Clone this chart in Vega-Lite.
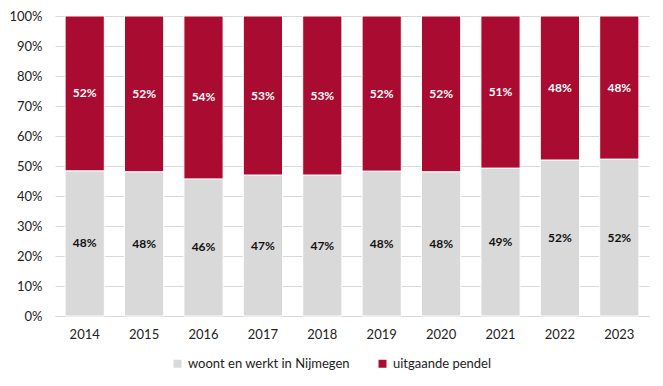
{
  "$schema": "https://vega.github.io/schema/vega-lite/v6.json",
  "width": 594,
  "height": 300,
  "autosize": "none",
  "padding": {"left": 55, "top": 16, "right": 14, "bottom": 70},
  "background": "white",
  "config": {
    "font": "Lato",
    "view": {"stroke": null},
    "axis": {"labelFont": "Lato", "labelFontSize": 13, "labelColor": "#222"},
    "axisY": {"values": [0, 0.1, 0.2, 0.3, 0.4, 0.5, 0.6, 0.7, 0.8, 0.9, 1], "labelOverlap": false, "format": ".0%", "domain": false, "ticks": false, "gridColor": "#d9d9d9", "labelPadding": 13},
    "legend": {"labelFont": "Lato", "labelFontSize": 13, "labelColor": "#222"}
  },
  "data": {
    "values": [
      {"year": "2014", "series": "woont en werkt in Nijmegen", "k": 0, "value": 0.484},
      {"year": "2014", "series": "uitgaande pendel", "k": 1, "value": 0.516},
      {"year": "2015", "series": "woont en werkt in Nijmegen", "k": 0, "value": 0.481},
      {"year": "2015", "series": "uitgaande pendel", "k": 1, "value": 0.519},
      {"year": "2016", "series": "woont en werkt in Nijmegen", "k": 0, "value": 0.457},
      {"year": "2016", "series": "uitgaande pendel", "k": 1, "value": 0.543},
      {"year": "2017", "series": "woont en werkt in Nijmegen", "k": 0, "value": 0.47},
      {"year": "2017", "series": "uitgaande pendel", "k": 1, "value": 0.53},
      {"year": "2018", "series": "woont en werkt in Nijmegen", "k": 0, "value": 0.47},
      {"year": "2018", "series": "uitgaande pendel", "k": 1, "value": 0.53},
      {"year": "2019", "series": "woont en werkt in Nijmegen", "k": 0, "value": 0.483},
      {"year": "2019", "series": "uitgaande pendel", "k": 1, "value": 0.517},
      {"year": "2020", "series": "woont en werkt in Nijmegen", "k": 0, "value": 0.481},
      {"year": "2020", "series": "uitgaande pendel", "k": 1, "value": 0.519},
      {"year": "2021", "series": "woont en werkt in Nijmegen", "k": 0, "value": 0.493},
      {"year": "2021", "series": "uitgaande pendel", "k": 1, "value": 0.507},
      {"year": "2022", "series": "woont en werkt in Nijmegen", "k": 0, "value": 0.52},
      {"year": "2022", "series": "uitgaande pendel", "k": 1, "value": 0.48},
      {"year": "2023", "series": "woont en werkt in Nijmegen", "k": 0, "value": 0.523},
      {"year": "2023", "series": "uitgaande pendel", "k": 1, "value": 0.477}
    ]
  },
  "transform": [
    {"stack": "value", "groupby": ["year"], "sort": [{"field": "k", "order": "ascending"}], "offset": "normalize", "as": ["v0", "v1"]},
    {"calculate": "(datum.v0 + datum.v1) / 2", "as": "mid"}
  ],
  "encoding": {
    "x": {
      "field": "year", "type": "nominal", "title": null,
      "scale": {"paddingInner": 0.34, "paddingOuter": 0.17},
      "axis": {"labelAngle": 0, "ticks": false, "domainColor": "#d9d9d9", "labelPadding": 12}
    }
  },
  "layer": [
    {
      "mark": {"type": "bar", "stroke": "white", "strokeWidth": 1},
      "encoding": {
        "y": {
          "field": "v0", "type": "quantitative", "title": null,
          "scale": {"domain": [0, 1]}
        },
        "y2": {"field": "v1"},
        "color": {
          "field": "series", "type": "nominal", "title": null,
          "scale": {"domain": ["woont en werkt in Nijmegen", "uitgaande pendel"], "range": ["#d9d9d9", "#a90c30"]},
          "legend": {"orient": "none", "legendX": 116, "legendY": 341, "direction": "horizontal", "symbolType": "square", "symbolSize": 64, "symbolStrokeWidth": 0, "columnPadding": 26, "labelLimit": 300}
        }
      }
    },
    {
      "mark": {"type": "text", "fontWeight": "bold", "fontSize": 12, "font": "Lato"},
      "encoding": {
        "y": {"field": "mid", "type": "quantitative", "title": null},
        "text": {"field": "value", "type": "quantitative", "format": ".0%"},
        "color": {
          "field": "series", "type": "nominal",
          "scale": {"domain": ["woont en werkt in Nijmegen", "uitgaande pendel"], "range": ["#d9d9d9", "#a90c30"]},
          "legend": null
        },
        "fill": {"condition": {"test": "datum.k == 0", "value": "#111"}, "value": "white"}
      }
    }
  ]
}
